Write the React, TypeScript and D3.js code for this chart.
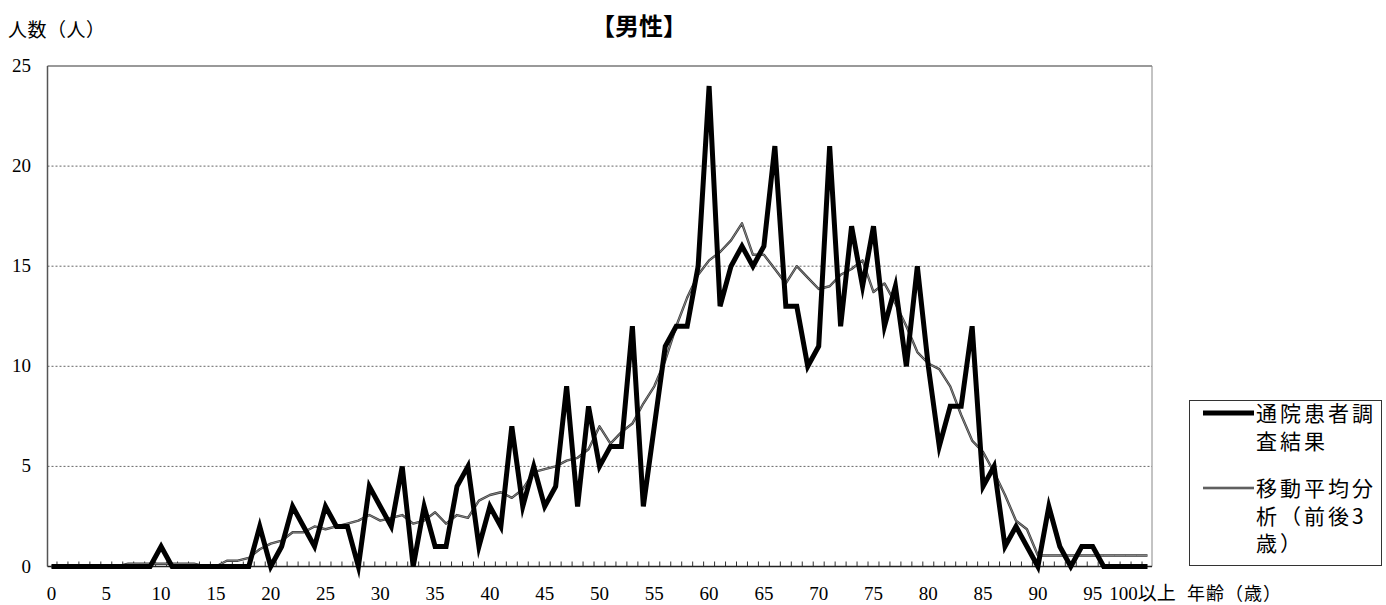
import React from "react";
import * as d3 from "d3";

// Categories: ages 0..99 and "100以上"
const ageCategories: string[] = [
  ...Array.from({ length: 100 }, (_, i) => String(i)),
  "100以上",
];

// 通院患者調査結果 (persons per age)
const patientCounts: number[] = [
  0, 0, 0, 0, 0, 0, 0, 0, 0, 0,
  1, 0, 0, 0, 0, 0, 0, 0, 0, 2,
  0, 1, 3, 2, 1, 3, 2, 2, 0, 4,
  3, 2, 5, 0, 3, 1, 1, 4, 5, 1,
  3, 2, 7, 3, 5, 3, 4, 9, 3, 8,
  5, 6, 6, 12, 3, 7, 11, 12, 12, 15,
  24, 13, 15, 16, 15, 16, 21, 13, 13, 10,
  11, 21, 12, 17, 14, 17, 12, 14, 10, 15,
  10, 6, 8, 8, 12, 4, 5, 1, 2, 1,
  0, 3, 1, 0, 1, 1, 0, 0, 0, 0,
  0,
];

// 移動平均分析（前後3歳）
const movingAverage: number[] = [
  0, 0, 0, 0, 0, 0, 0, 0.14, 0.14, 0.14,
  0.14, 0.14, 0.14, 0.14, 0, 0, 0.29, 0.29, 0.43, 0.86,
  1.14, 1.29, 1.71, 1.71, 2.0, 1.86, 2.0, 2.14, 2.29, 2.57,
  2.29, 2.43, 2.57, 2.14, 2.29, 2.71, 2.14, 2.57, 2.43, 3.29,
  3.57, 3.71, 3.43, 3.86, 4.71, 4.86, 5.0, 5.29, 5.43, 5.86,
  7.0, 6.14, 6.71, 7.14, 8.14, 9.0, 10.29, 12.0, 13.43, 14.57,
  15.29, 15.71, 16.29, 17.14, 15.57, 15.57, 14.86, 14.14, 15.0, 14.43,
  13.86, 14.0, 14.57, 14.86, 15.29, 13.71, 14.14, 13.14, 12.0, 10.71,
  10.14, 9.86, 9.0, 7.57, 6.29, 5.71, 4.71, 3.57, 2.29, 1.86,
  0.55, 0.55, 0.55, 0.55, 0.55, 0.55, 0.55, 0.55, 0.55, 0.55,
  0.55,
];

const yTicks: number[] = [0, 5, 10, 15, 20, 25];
const xTickLabels: string[] = ageCategories.filter((_, i) => i % 5 === 0);

const titleText = "【男性】";
const yAxisTitle = "人数（人）";
const xAxisTitle = "年齢（歳）";
const legendSeries1: string[] = ["通院患者調", "査結果"];
const legendSeries2: string[] = ["移動平均分", "析（前後3", "歳）"];

const W = 1386;
const H = 605;
const plotLeft = 47.5;
const plotRight = 1152;
const plotTop = 66;
const plotBottom = 566.5;

const serif = "'Liberation Serif', 'DejaVu Serif', 'Noto Sans CJK JP', serif";
const cjk = "'Noto Sans CJK JP', sans-serif";

export default function App() {
  const x = d3
    .scalePoint<string>()
    .domain(ageCategories)
    .range([51.5, 1147.5]);
  const step = x.step();
  const y = d3.scaleLinear().domain([0, 25]).range([plotBottom, plotTop]);

  const line = d3
    .line<number>()
    .x((_, i) => x(ageCategories[i]) as number)
    .y((d) => y(d));

  const tickXs = ageCategories.slice(0, 100).map((c) => (x(c) as number) + step / 2);

  return (
    <svg
      width={W}
      height={H}
      style={{ position: "absolute", left: 0, top: 0, background: "#fff" }}
    >
      <rect x={0} y={0} width={W} height={H} fill="#fff" />
      {/* title */}
      <text
        x={639}
        y={35}
        textAnchor="middle"
        fontFamily={cjk}
        fontWeight="bold"
        fontSize={24}
        fill="#000"
      >
        {titleText}
      </text>
      <text x={8} y={37} fontFamily={cjk} fontSize={19} letterSpacing={0.5} fill="#000">
        {yAxisTitle}
      </text>

      {/* grid lines */}
      {yTicks
        .filter((t) => t > 0 && t < 25)
        .map((t) => (
          <line
            key={t}
            x1={plotLeft}
            x2={plotRight}
            y1={y(t)}
            y2={y(t)}
            stroke="#666"
            strokeWidth={1}
            strokeDasharray="2,2"
          />
        ))}
      {/* plot border */}
      <line x1={plotLeft} x2={plotRight} y1={plotTop} y2={plotTop} stroke="#999" strokeWidth={2} />
      <line x1={plotRight} x2={plotRight} y1={plotTop} y2={plotBottom} stroke="#888" strokeWidth={1} />
      <line x1={plotLeft} x2={plotLeft} y1={plotTop} y2={plotBottom} stroke="#555" strokeWidth={1.5} />

      {/* y tick labels */}
      {yTicks.map((t) => (
        <text
          key={t}
          x={31}
          y={y(t) + 6}
          textAnchor="end"
          fontFamily={serif}
          fontSize={19}
          fill="#000"
        >
          {t}
        </text>
      ))}

      {/* x axis */}
      {tickXs.map((tx, i) => (
        <line key={i} x1={tx} x2={tx} y1={plotBottom} y2={plotBottom - 5} stroke="#333" strokeWidth={1} />
      ))}
      <line x1={plotLeft} x2={plotRight} y1={plotBottom} y2={plotBottom} stroke="#222" strokeWidth={1.5} />
      {xTickLabels.map((c) => {
        const isLast = c === "100以上";
        return (
          <text
            key={c}
            x={(x(c) as number) - (isLast ? 5 : 0)}
            y={600}
            textAnchor="middle"
            fontFamily={serif}
            fontSize={19}
            fill="#000"
          >
            {c}
          </text>
        );
      })}
      <text x={1187} y={600} fontFamily={cjk} fontSize={18} letterSpacing={1} fill="#000">
        {xAxisTitle}
      </text>

      {/* series */}
      <path
        d={line(movingAverage) || ""}
        fill="none"
        stroke="#3a3a3a"
        strokeWidth={2.4}
        strokeLinejoin="round"
      />
      <path
        d={line(movingAverage) || ""}
        fill="none"
        stroke="#9a9a9a"
        strokeWidth={0.8}
        strokeLinejoin="round"
      />
      <path
        d={line(patientCounts) || ""}
        fill="none"
        stroke="#000"
        strokeWidth={5}
        strokeLinejoin="miter"
        strokeMiterlimit={6}
      />

      {/* legend */}
      <rect x={1189.5} y={400.5} width={192} height={165} fill="#fff" stroke="#333" strokeWidth={1} />
      <line x1={1203} x2={1254} y1={413} y2={413} stroke="#000" strokeWidth={5} />
      {legendSeries1.map((s, i) => (
        <text
          key={s}
          x={1256}
          y={421 + i * 28}
          fontFamily={cjk}
          fontSize={21}
          letterSpacing={3}
          fill="#000"
        >
          {s}
        </text>
      ))}
      <line x1={1203} x2={1254} y1={488} y2={488} stroke="#3a3a3a" strokeWidth={2.4} />
      <line x1={1203} x2={1254} y1={488} y2={488} stroke="#9a9a9a" strokeWidth={0.8} />
      {legendSeries2.map((s, i) => (
        <text
          key={s}
          x={1256}
          y={496 + i * 27.5}
          fontFamily={cjk}
          fontSize={21}
          letterSpacing={3}
          fill="#000"
        >
          {s}
        </text>
      ))}
    </svg>
  );
}
